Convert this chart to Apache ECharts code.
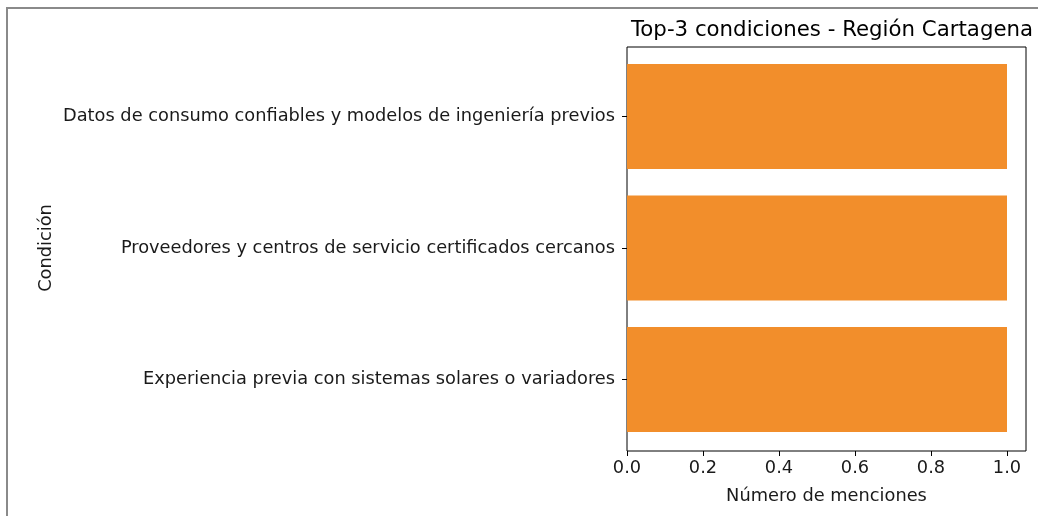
<!DOCTYPE html>
<html>
<head>
<meta charset="utf-8">
<script src="https://cdn.jsdelivr.net/npm/echarts@6/dist/echarts.min.js"></script>
<style>
  html, body { margin: 0; padding: 0; background: #fff; }
  #chart { width: 1038px; height: 516px; }
</style>
</head>
<body>
<div id="chart"></div>
<script>
  // data
  const categories = [
    'Datos de consumo confiables y modelos de ingeniería previos',
    'Proveedores y centros de servicio certificados cercanos',
    'Experiencia previa con sistemas solares o variadores'
  ];
  const menciones = [1, 1, 1];
  const xTicks = [0, 0.2, 0.4, 0.6, 0.8, 1.0];

  const font = 'DejaVu Sans';
  const chart = echarts.init(document.getElementById('chart'));

  chart.setOption({
    animation: false,
    textStyle: { fontFamily: font },
    title: {
      text: 'Top-3 condiciones - Región Cartagena',
      left: 827,
      top: 15,
      textAlign: 'center',
      textStyle: { fontFamily: font, fontSize: 21.3, fontWeight: 'normal', color: '#000' }
    },
    graphic: [{
      type: 'rect',
      shape: { x: 7, y: 8, width: 1200, height: 700 },
      style: { fill: 'none', stroke: '#8a8a8a', lineWidth: 2 },
      silent: true
    }],
    grid: [
      // frame + x axis
      { left: 627, top: 47, width: 399, height: 404, show: true, borderColor: '#000', borderWidth: 1, backgroundColor: 'transparent' },
      // bars
      { left: 627, top: 50.75, width: 399, height: 394.5 }
    ],
    xAxis: [{
      gridIndex: 0,
      type: 'value',
      min: 0,
      max: 1.05,
      interval: 0.2,
      splitLine: { show: false },
      axisLine: { show: false },
      axisTick: { show: true, length: 5, customValues: xTicks, lineStyle: { color: '#000' } },
      axisLabel: {
        customValues: xTicks,
        margin: 8,
        fontSize: 17.8,
        color: '#1a1a1a',
        formatter: v => v.toFixed(1)
      },
      name: 'Número de menciones',
      nameLocation: 'middle',
      nameGap: 36,
      nameTextStyle: { fontSize: 17.8, color: '#1a1a1a' }
    }, {
      gridIndex: 1,
      type: 'value',
      min: 0,
      max: 1.05,
      show: false
    }],
    yAxis: [{
      gridIndex: 0,
      type: 'value',
      show: false
    }, {
      gridIndex: 1,
      type: 'category',
      data: categories,
      inverse: true,
      axisLine: { show: false },
      axisTick: { show: true, length: 5, alignWithLabel: true, lineStyle: { color: '#000' } },
      axisLabel: { margin: 12, fontSize: 17.8, color: '#1a1a1a' },
      name: 'Condición',
      nameLocation: 'middle',
      nameGap: 572,
      nameRotate: 90,
      nameTextStyle: { fontSize: 17.8, color: '#1a1a1a' }
    }],
    series: [{
      type: 'bar',
      xAxisIndex: 1,
      yAxisIndex: 1,
      data: menciones,
      barWidth: 105,
      itemStyle: { color: '#F28E2B' }
    }]
  });
</script>
</body>
</html>
